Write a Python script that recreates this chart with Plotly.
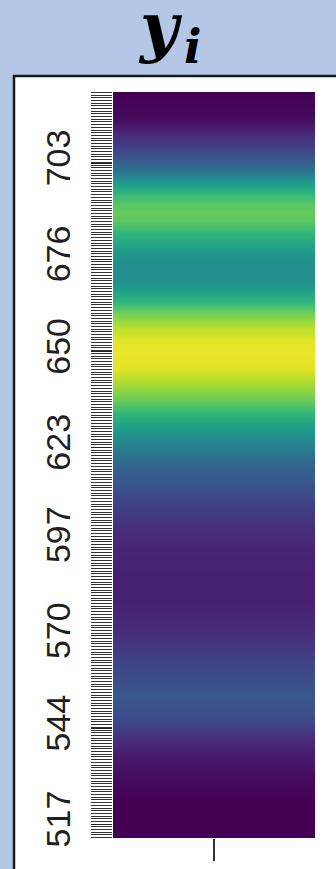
import plotly.graph_objects as go

# Data (wavelength in nm, normalised intensity 0..1)
wavelengths = [723.0, 719.3, 715.7, 712.8, 710.0, 707.2, 705.3, 701.6, 697.9, 694.0,
               691.2, 688.9, 686.7, 683.9, 679.9, 677.1, 673.5, 669.8, 667.8, 664.2,
               660.2, 656.6, 652.9, 649.3, 645.3, 641.7, 637.7, 634.1, 630.4, 626.5,
               620.8, 616.6, 613.2, 607.6, 600.0, 594.1, 587.1, 580.0, 571.9, 566.3,
               560.6, 553.3, 547.7, 542.1, 537.3, 529.7, 523.8, 513.1]
intensity = [0.00, 0.01, 0.03, 0.08, 0.14, 0.20, 0.25, 0.35, 0.52, 0.68,
             0.74, 0.76, 0.74, 0.67, 0.58, 0.52, 0.49, 0.50, 0.55, 0.65,
             0.80, 0.90, 0.96, 0.97, 0.96, 0.88, 0.80, 0.70, 0.60, 0.50,
             0.38, 0.30, 0.27, 0.20, 0.13, 0.10, 0.09, 0.09, 0.12, 0.17,
             0.22, 0.27, 0.24, 0.15, 0.08, 0.03, 0.00, 0.00]
tick_values = [517, 544, 570, 597, 623, 650, 676, 703]
tick_labels = ["517", "544", "570", "597", "623", "650", "676", "703"]
sample_cols = [0, 1]

W, H = 336, 869
z = [[v for _ in sample_cols] for v in intensity]

fig = go.Figure(go.Heatmap(
    x=sample_cols, y=wavelengths, z=z,
    colorscale="Viridis", zmin=0, zmax=1, zsmooth="best", showscale=False,
))

def px_x(p):
    return p / W

def px_y(p):
    return (H - p) / H

fig.update_layout(
    width=W, height=H,
    margin=dict(l=0, r=0, t=0, b=0),
    paper_bgcolor="#b4c7e7",
    plot_bgcolor="white",
    showlegend=False,
    xaxis=dict(domain=[px_x(113), px_x(315)], range=[-0.5, 1.5],
               tickmode="array", tickvals=[0.5], ticktext=[""],
               ticks="outside", ticklen=22, tickcolor="#333", tickwidth=2,
               showgrid=False, zeroline=False, showline=False, automargin=False),
    yaxis=dict(domain=[px_y(838), px_y(92)], range=[513.1, 723.0],
               tickmode="array", tickvals=tick_values, ticktext=tick_labels,
               ticks="outside", ticklen=21, tickcolor="#222", tickwidth=1,
               tickangle=-90, ticklabelstandoff=7,
               tickfont=dict(family="Liberation Sans", size=34, color="#1f1f1f"),
               minor=dict(tickmode="linear", tick0=513.2, dtick=0.757,
                          ticks="outside", ticklen=21, tickcolor="#333", tickwidth=1,
                          showgrid=False),
               showgrid=False, zeroline=False, showline=False, automargin=False),
    shapes=[dict(type="rect", xref="paper", yref="paper", layer="below",
                 x0=px_x(14), x1=1.1, y0=-0.1, y1=px_y(76),
                 fillcolor="white", line=dict(color="#1a1a1a", width=2.5))],
    annotations=[
        dict(text="y", xref="paper", yref="paper", x=px_x(160), y=px_y(26),
             xanchor="center", yanchor="middle", showarrow=False,
             font=dict(family="DejaVu Serif", size=66, color="black",
                       weight="bold", style="italic")),
        dict(text="i", xref="paper", yref="paper", x=px_x(192), y=px_y(47),
             xanchor="center", yanchor="middle", showarrow=False,
             font=dict(family="DejaVu Serif", size=46, color="black",
                       weight="bold", style="italic")),
    ],
)

fig.write_html("out.html")
